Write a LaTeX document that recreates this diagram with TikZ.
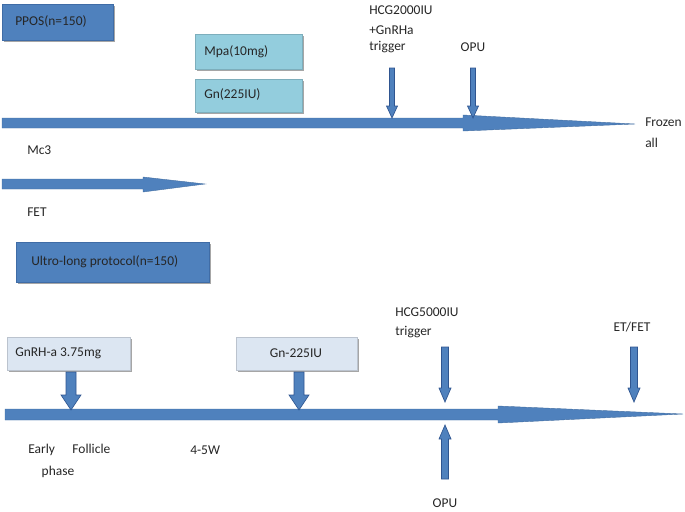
\documentclass[tikz,border=0pt]{standalone}
\usepackage{fontspec}
\setmainfont{Carlito}
\usetikzlibrary{shadows}
\definecolor{darkbox}{HTML}{4F81BD}
\definecolor{darkedge}{HTML}{3F6CA6}
\definecolor{cyanbox}{HTML}{93CDDD}
\definecolor{palebox}{HTML}{DCE6F2}
\definecolor{arrowfill}{HTML}{4F81BD}
\definecolor{arrowedge}{HTML}{2F5590}
\definecolor{txt}{HTML}{262626}
\newcommand{\vblock}[6]{%
  \fill[arrowfill,draw=arrowedge,line width=0.5pt]
    ({#1-#4},#2) -- ({#1+#4},#2) -- ({#1+#4},{#3-#6}) -- ({#1+#5},{#3-#6})
    -- (#1,#3) -- ({#1-#5},{#3-#6}) -- ({#1-#4},{#3-#6}) -- cycle;}
\tikzset{
  lbl/.style={font=\fontsize{10.1pt}{12pt}\selectfont, text=txt, inner sep=0pt},
  boxbase/.style={lbl, anchor=north west, inner sep=0pt, text depth=0pt,
    drop shadow={shadow xshift=1.2pt, shadow yshift=-1.2pt, opacity=0.35, fill=black}},
  darkb/.style={boxbase, fill=darkbox, draw=darkedge, line width=0.4pt},
  cyanb/.style={boxbase, fill=cyanbox, draw=cyanbox!85!black, line width=0.4pt},
  paleb/.style={boxbase, fill=palebox, draw=palebox!85!black, line width=0.4pt},
  timeline/.style={fill=arrowfill, draw=arrowfill!85!black, line width=0.3pt}
}
\begin{document}
\begin{tikzpicture}[x=0.75pt,y=-0.75pt]
\useasboundingbox (0,0) rectangle (685,511);
% ---------- boxes ----------
\node[darkb, minimum width=111*0.75pt, minimum height=36*0.75pt] (ppos) at (2,4) {};
\node[lbl, anchor=west] (ppost) at (15,22) {PPOS(n=150)};
\node[cyanb, minimum width=107*0.75pt, minimum height=35*0.75pt] (mpa) at (195,34) {};
\node[lbl, anchor=west] (mpat) at (204,52) {Mpa(10mg)};
\node[cyanb, minimum width=107*0.75pt, minimum height=33*0.75pt] (gn) at (195,79) {};
\node[lbl, anchor=west] (gnt) at (204,95) {Gn(225IU)};
\node[darkb, minimum width=193*0.75pt, minimum height=40*0.75pt] (ultra) at (16,242) {};
\node[lbl, anchor=west] (ultrat) at (31,262) {Ultro-long protocol(n=150)};
\node[paleb, minimum width=123*0.75pt, minimum height=33*0.75pt] (gnrh) at (7,337) {};
\node[lbl, anchor=west] (gnrht) at (15,353) {GnRH-a 3.75mg};
\node[paleb, minimum width=121*0.75pt, minimum height=33*0.75pt] (gn2) at (236,337) {};
\node[lbl, anchor=center] (gn2t) at (296,353) {Gn-225IU};
% ---------- timelines ----------
\fill[timeline] (2,118) -- (463,118) -- (463,115) -- (635,124) -- (463,131) -- (463,128) -- (2,128) -- cycle;
\fill[timeline] (2,179) -- (143,179) -- (143,177) -- (205,184) -- (143,192) -- (143,189) -- (2,189) -- cycle;
\fill[timeline] (5,409) -- (498,409) -- (498,406) -- (683,414) -- (498,423) -- (498,420) -- (5,420) -- cycle;
% ---------- block arrows ----------
\vblock{392}{68}{118}{2.5}{5.5}{12}
\vblock{473}{68}{118}{2.5}{5.5}{12}
\vblock{71}{372}{410}{5}{10}{15}
\vblock{299}{372}{410}{5}{10}{15}
\vblock{445}{347}{402}{3.5}{6}{14}
\vblock{634}{347}{402}{3.5}{6}{14}
\vblock{445}{479}{425}{3.5}{6}{-14}
% ---------- labels ----------
\node[lbl, anchor=west] (hcg1) at (369,10) {HCG2000IU};
\node[lbl, anchor=west] (hcg2) at (369,30) {+GnRHa};
\node[lbl, anchor=west] (hcg3) at (369,47) {trigger};
\node[lbl] (opu1) at (473,47) {OPU};
\node[lbl, anchor=west] (froz) at (645,122) {Frozen};
\node[lbl, anchor=west] (all) at (645,143) {all};
\node[lbl, anchor=west] (mc3) at (27,150) {Mc3};
\node[lbl, anchor=west] (fet) at (27,212) {FET};
\node[lbl, anchor=west] (hcg5) at (395,312) {HCG5000IU};
\node[lbl, anchor=west] (trig) at (395,332) {trigger};
\node[lbl] (etfet) at (632,327) {ET/FET};
\node[lbl] (opu2) at (445,503) {OPU};
\node[lbl, anchor=west] (early) at (28,450) {Early\hspace{1.3em}Follicle};
\node[lbl] (phase) at (58,472) {phase};
\node[lbl, anchor=west] (w45) at (190,450) {4-5W};
\end{tikzpicture}
\end{document}
